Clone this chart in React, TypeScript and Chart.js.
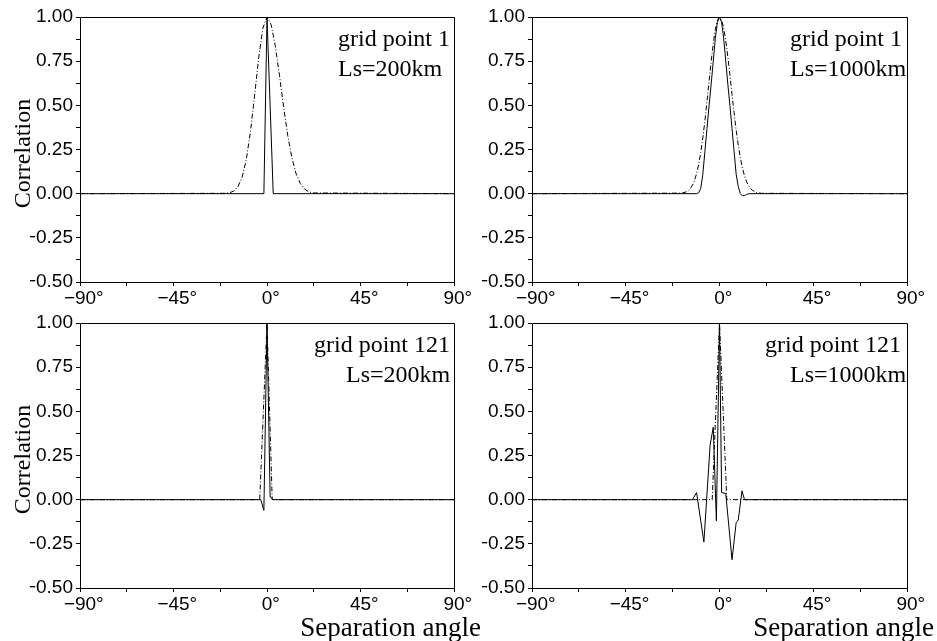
import React, { useEffect, useRef } from "react";
import { Chart, registerables } from "chart.js";

Chart.register(...registerables);

const PAGE_W = 937;
const PAGE_H = 641;

// ---- axis ticks ----
const xTickValues = [-90, -67.5, -45, -22.5, 0, 22.5, 45, 67.5, 90];
const xMajorTicks = [-90, -45, 0, 45, 90];
const yTickValues = [-0.5, -0.375, -0.25, -0.125, 0, 0.125, 0.25, 0.375, 0.5, 0.625, 0.75, 0.875, 1];
const yMajorTicks = [-0.5, -0.25, 0, 0.25, 0.5, 0.75, 1];

// ---- panel texts ----
const panelGridLabels = ["grid point 1", "grid point 1", "grid point 121", "grid point 121"];
const panelScaleLabels = ["Ls=200km", "Ls=1000km", "Ls=200km", "Ls=1000km"];
const yAxisTitle = "Correlation";
const xAxisTitle = "Separation angle";

// ---- grid point 1, Ls=200km ----
const gp1Ls200SolidX = [-90, -1.5, 0, 3, 90];
const gp1Ls200SolidY = [0, 0, 1, 0, 0];
const gp1Ls200DashX = [-90, -20, -18, -16, -14, -12, -10, -8, -6, -4, -2, 0, 2, 4, 6, 8, 10, 12, 14, 16, 18, 20, 22, 90];
const gp1Ls200DashY = [0, 0.002, 0.005, 0.015, 0.039, 0.093, 0.191, 0.347, 0.552, 0.768, 0.936, 1, 0.956, 0.837, 0.67, 0.49, 0.328, 0.201, 0.113, 0.058, 0.027, 0.011, 0.004, 0];

// ---- grid point 1, Ls=1000km ----
const gp1Ls1000SolidX = [-90, -11, -10, -9, -8, -7, -6, -5, -4, -3, -2, -1, 0, 1, 2, 3, 4, 5, 6, 7, 8, 9, 10, 11, 12, 13, 14, 90];
const gp1Ls1000SolidY = [0, 0, 0.005, 0.03, 0.11, 0.24, 0.37, 0.5, 0.62, 0.75, 0.88, 0.97, 1, 0.97, 0.88, 0.75, 0.62, 0.5, 0.37, 0.24, 0.11, 0.04, 0, -0.012, -0.01, -0.005, 0, 0];
const gp1Ls1000DashX = [-90, -18, -16, -15, -14, -13, -12, -11, -10, -9, -8, -7, -6, -5, -4, -3, -2, -1, 0, 1, 2, 3, 4, 5, 6, 7, 8, 9, 10, 11, 12, 13, 14, 15, 16, 18, 20, 90];
const gp1Ls1000DashY = [0, 0.003, 0.01, 0.017, 0.029, 0.048, 0.075, 0.113, 0.165, 0.232, 0.316, 0.414, 0.523, 0.637, 0.749, 0.85, 0.93, 0.982, 1, 0.984, 0.938, 0.866, 0.775, 0.671, 0.563, 0.458, 0.36, 0.275, 0.203, 0.145, 0.101, 0.067, 0.044, 0.028, 0.017, 0.006, 0.002, 0];

// ---- grid point 121, Ls=200km ----
const gp121Ls200SolidX = [-90, -3, -1.5, 0, 1.5, 3, 90];
const gp121Ls200SolidY = [0, 0, -0.06, 1, 0.015, 0, 0];
const gp121Ls200DashX = [-90, -3.5, 0, 2.5, 90];
const gp121Ls200DashY = [0, 0, 1, 0, 0];

// ---- grid point 121, Ls=1000km ----
const gp121Ls1000SolidX = [-90, -13, -11, -7.5, -4.5, -3, -1.5, 0, 1, 3, 6, 8, 9, 10.8, 12, 90];
const gp121Ls1000SolidY = [0, 0, 0.04, -0.24, 0.31, 0.41, -0.12, 1, 0.04, 0.035, -0.34, -0.13, -0.115, 0.05, 0, 0];
const gp121Ls1000DashX = [-90, -3.5, 0, 3.5, 90];
const gp121Ls1000DashY = [0, 0, 1, 0, 0];

// ---- layout of the four panels (plot-area edges in page pixels, text offsets from plot left) ----
const panels = [
  { left: 80, right: 454, top: 17, bottom: 282, gx: 258, lx: 258, sx: gp1Ls200SolidX, sy: gp1Ls200SolidY, dx: gp1Ls200DashX, dy: gp1Ls200DashY, showY: true, showX: false },
  { left: 532, right: 907, top: 17, bottom: 282, gx: 258, lx: 258, sx: gp1Ls1000SolidX, sy: gp1Ls1000SolidY, dx: gp1Ls1000DashX, dy: gp1Ls1000DashY, showY: false, showX: false },
  { left: 80, right: 454, top: 323, bottom: 588, gx: 234, lx: 266, sx: gp121Ls200SolidX, sy: gp121Ls200SolidY, dx: gp121Ls200DashX, dy: gp121Ls200DashY, showY: true, showX: true },
  { left: 532, right: 907, top: 323, bottom: 588, gx: 233, lx: 258, sx: gp121Ls1000SolidX, sy: gp121Ls1000SolidY, dx: gp121Ls1000DashX, dy: gp121Ls1000DashY, showY: false, showX: true },
];

const SANS = "'Liberation Sans', Arial, Helvetica, sans-serif";
const SERIF = "'Liberation Serif', 'Times New Roman', Times, serif";

function toPoints(xs: number[], ys: number[]) {
  return xs.map((x, i) => ({ x, y: ys[i] }));
}

function fmtX(v: number) {
  if (!xMajorTicks.includes(v)) return "";
  return (v < 0 ? "\u2212" : "") + Math.abs(v) + "\u00B0";
}

function fmtY(v: number) {
  const m = yMajorTicks.find((t) => Math.abs(t - v) < 1e-9);
  if (m === undefined) return "";
  return (m < 0 ? "\u2212" : "") + Math.abs(m).toFixed(2);
}

const decorPlugin = {
  id: "decor",
  afterDraw(chart: any, _args: any, opts: any) {
    const { ctx, chartArea: a } = chart;
    ctx.save();
    // frame
    ctx.strokeStyle = "#000";
    ctx.lineWidth = 1;
    const l = Math.round(a.left) + 0.5;
    const t = Math.round(a.top) + 0.5;
    const r = Math.round(a.right) + 0.5;
    const b = Math.round(a.bottom) + 0.5;
    ctx.beginPath();
    ctx.moveTo(l, t);
    ctx.lineTo(r, t);
    ctx.lineTo(r, b);
    ctx.lineTo(l, b);
    ctx.closePath();
    ctx.stroke();

    ctx.fillStyle = "#000";
    // panel annotation
    ctx.font = `24px ${SERIF}`;
    ctx.textAlign = "left";
    ctx.textBaseline = "alphabetic";
    ctx.fillText(opts.gridLabel, a.left + opts.gx, a.top + 29);
    ctx.fillText(opts.scaleLabel, a.left + opts.lx, a.top + 59);

    if (opts.showY) {
      ctx.save();
      ctx.font = `24px ${SERIF}`;
      ctx.translate(30, (a.top + a.bottom) / 2 + 4);
      ctx.rotate(-Math.PI / 2);
      ctx.textAlign = "center";
      ctx.fillText(yAxisTitle, 0, 0);
      ctx.restore();
    }
    if (opts.showX) {
      ctx.font = `27px ${SERIF}`;
      ctx.textAlign = "right";
      ctx.fillText(xAxisTitle, a.right + 27, 636);
    }
    ctx.restore();
  },
};

function makeConfig(p: any, i: number): any {
  const YW = 50;
  const XH = 30;
  return {
    type: "line",
    data: {
      datasets: [
        {
          data: toPoints(p.sx, p.sy),
          borderColor: "#000",
          borderWidth: 1,
          pointRadius: 0,
          tension: 0,
          fill: false,
          order: 1,
        },
        {
          data: toPoints(p.dx, p.dy),
          borderColor: "#000",
          borderWidth: 1,
          borderDash: [5, 2, 1, 2],
          pointRadius: 0,
          tension: 0,
          fill: false,
          order: 0,
        },
      ],
    },
    options: {
      responsive: false,
      animation: false,
      events: [],
      layout: {
        padding: {
          left: p.left - YW,
          top: p.top,
          right: PAGE_W - p.right,
          bottom: PAGE_H - p.bottom - XH,
        },
      },
      plugins: {
        legend: { display: false },
        tooltip: { enabled: false },
        decor: {
          gridLabel: panelGridLabels[i],
          scaleLabel: panelScaleLabels[i],
          gx: p.gx,
          lx: p.lx,
          showY: p.showY,
          showX: p.showX,
        },
      },
      scales: {
        x: {
          type: "linear",
          min: -90,
          max: 90,
          afterBuildTicks: (s: any) => {
            s.ticks = xTickValues.map((v) => ({ value: v }));
          },
          afterFit: (s: any) => {
            s.height = XH;
          },
          grid: { drawOnChartArea: false, drawTicks: true, tickLength: 4, color: "#000", lineWidth: 1 },
          border: { display: false },
          ticks: {
            autoSkip: false,
            maxRotation: 0,
            minRotation: 0,
            padding: 3,
            labelOffset: 3.8,
            color: "#000",
            font: { family: SANS, size: 19, lineHeight: 1 },
            callback: (v: number) => fmtX(v),
          },
        },
        y: {
          type: "linear",
          min: -0.5,
          max: 1,
          afterBuildTicks: (s: any) => {
            s.ticks = yTickValues.map((v) => ({ value: v }));
          },
          afterFit: (s: any) => {
            s.width = YW;
          },
          grid: { drawOnChartArea: false, drawTicks: true, tickLength: 4, color: "#000", lineWidth: 1 },
          border: { display: false },
          ticks: {
            autoSkip: false,
            padding: 3,
            color: "#000",
            font: { family: SANS, size: 19, lineHeight: 1 },
            callback: (v: number) => fmtY(v),
          },
        },
      },
    },
    plugins: [decorPlugin],
  };
}

export default function App() {
  const refs = useRef<(HTMLCanvasElement | null)[]>([]);
  useEffect(() => {
    const charts = panels.map((p, i) => new Chart(refs.current[i] as HTMLCanvasElement, makeConfig(p, i)));
    return () => charts.forEach((c) => c.destroy());
  }, []);
  return (
    <div style={{ position: "absolute", left: 0, top: 0, width: PAGE_W, height: PAGE_H, background: "#fff" }}>
      {panels.map((_, i) => (
        <canvas
          key={i}
          ref={(el) => {
            refs.current[i] = el;
          }}
          width={PAGE_W}
          height={PAGE_H}
          style={{ position: "absolute", left: 0, top: 0 }}
        />
      ))}
    </div>
  );
}
